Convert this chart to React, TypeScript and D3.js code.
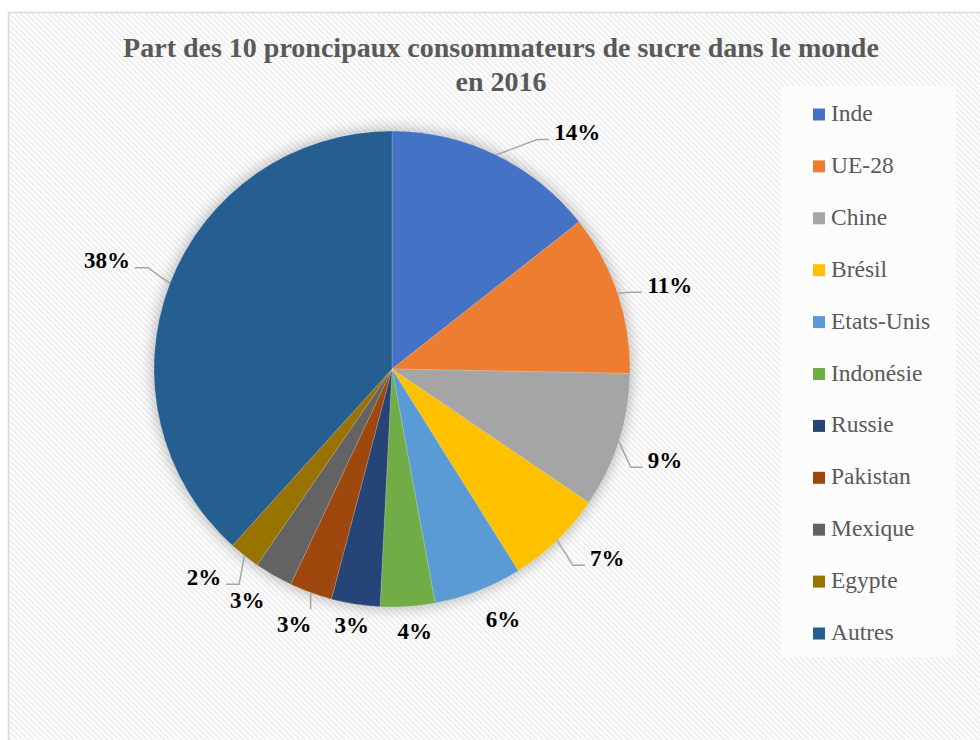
import React from "react";
import * as d3 from "d3";

// ---- data ----
const categories = [
  "Inde", "UE-28", "Chine", "Brésil", "Etats-Unis", "Indonésie",
  "Russie", "Pakistan", "Mexique", "Egypte", "Autres",
];
const shares = [14.4, 10.9, 9.2, 6.6, 6.0, 3.7, 3.3, 2.9, 2.6, 2.1, 38.3];
const colors = [
  "#4472C4", "#ED7D31", "#A5A5A5", "#FFC000", "#5B9BD5", "#70AD47",
  "#264478", "#9E480E", "#636363", "#997300", "#255E91",
];
const titleLines = [
  "Part des 10 proncipaux consommateurs de sucre dans le monde",
  "en 2016",
];

// ---- label layout (angle nudge in degrees from slice mid-angle, radius factor, leader kind) ----
const labelNudge = [12.1, 1.7, 0.8, -4.8, -2.7, -1.2, 0.1, 1.0, 2.2, 3.8, -0.2];
const labelRadius = [1.263, 1.22, 1.209, 1.203, 1.149, 1.105, 1.088, 1.148, 1.146, 1.178, 1.282];
const leaderKind = ["right", "right", "right", "right", "none", "none", "none", "top", "none", "left", "left"];

const W = 980;
const H = 740;
const CX = 392;
const CY = 369;
const R = 238;
const LABEL_FS = 23;
const FONT = "Liberation Serif, serif";

const pt = (a: number, r: number) => [CX + r * Math.sin(a), CY - r * Math.cos(a)];

export default function App() {
  const pie = d3.pie<number>().sort(null).value((d) => d).startAngle(0).endAngle(2 * Math.PI);
  const arcs = pie(shares);
  const arc = d3.arc<d3.PieArcDatum<number>>().innerRadius(0).outerRadius(R);
  const total = d3.sum(shares);

  const legendY = d3.scalePoint<string>().domain(categories).range([121, 640]);

  return (
    <svg width={W} height={H} style={{ position: "absolute", left: 0, top: 0 }} fontFamily={FONT}>
      <defs>
        <pattern id="stripes" width="4" height="4" patternUnits="userSpaceOnUse" patternTransform="rotate(-45)">
          <rect width="4" height="4" fill="#ffffff" />
          <line x1="1" y1="0" x2="1" y2="4" stroke="#ececec" strokeWidth="1.6" />
        </pattern>
        <filter id="shadow" x="-20%" y="-20%" width="140%" height="140%">
          <feGaussianBlur stdDeviation="7" />
        </filter>
      </defs>
      <rect x={0} y={0} width={W} height={H} fill="#ffffff" />
      <rect x={8.5} y={12.5} width={W + 20} height={H + 20} fill="url(#stripes)" stroke="#d9d9d9" strokeWidth={1.5} />

      {/* title */}
      {titleLines.map((t, i) => (
        <text key={t} x={501} y={57 + i * 34} textAnchor="middle" fontWeight="bold" fontSize={28} fill="#595959"
          fontFamily={FONT}>
          {t}
        </text>
      ))}

      {/* pie shadow */}
      <circle cx={CX} cy={CY} r={R + 2} fill="#000" opacity={0.25} filter="url(#shadow)" />

      {/* slices */}
      <g transform={`translate(${CX},${CY})`}>
        {arcs.map((a, i) => (
          <path key={categories[i]} d={arc(a) || ""} fill={colors[i]} stroke="#ffffff" strokeOpacity={0.35} strokeWidth={0.5} />
        ))}
      </g>

      {/* labels + leaders */}
      {arcs.map((a, i) => {
        const mid = (a.startAngle + a.endAngle) / 2;
        const la = mid + (labelNudge[i] * Math.PI) / 180;
        const [lx, ly] = pt(la, R * labelRadius[i]);
        const label = `${Math.round((shares[i] / total) * 100)}%`;
        const half = (label.length - 1) * 0.25 * LABEL_FS + 0.5 * LABEL_FS;
        const base = ly + 0.34 * LABEL_FS;
        const [sx, sy] = pt(mid, R);
        let leader: string | null = null;
        const kind = leaderKind[i];
        if (kind === "right") {
          const ey = base - 0.5;
          leader = `M${sx},${sy}L${lx - half - 17},${ey}L${lx - half - 5},${ey}`;
        } else if (kind === "left") {
          const ey = base - 0.5;
          leader = `M${sx},${sy}L${lx + half + 18},${ey}L${lx + half + 5},${ey}`;
        } else if (kind === "top") {
          const ey = ly - 0.34 * LABEL_FS - 7;
          leader = `M${sx},${sy}L${sx},${ey}`;
        }
        return (
          <g key={categories[i]}>
            {leader && <path d={leader} fill="none" stroke="#a6a6a6" strokeWidth={1.5} />}
            <text x={lx} y={base} textAnchor="middle" fontWeight="bold" fontSize={LABEL_FS} fill="#000000"
              fontFamily={FONT}>
              {label}
            </text>
          </g>
        );
      })}

      {/* legend */}
      <rect x={781} y={86} width={175} height={571} fill="#fcfcfc" />
      {categories.map((c, i) => {
        const y = legendY(c) as number;
        return (
          <g key={c}>
            <rect x={813} y={y - 12.5} width={12} height={12} fill={colors[i]} />
            <text x={831} y={y} fontSize={23.5} fill="#595959" fontFamily={FONT}>{c}</text>
          </g>
        );
      })}
    </svg>
  );
}
